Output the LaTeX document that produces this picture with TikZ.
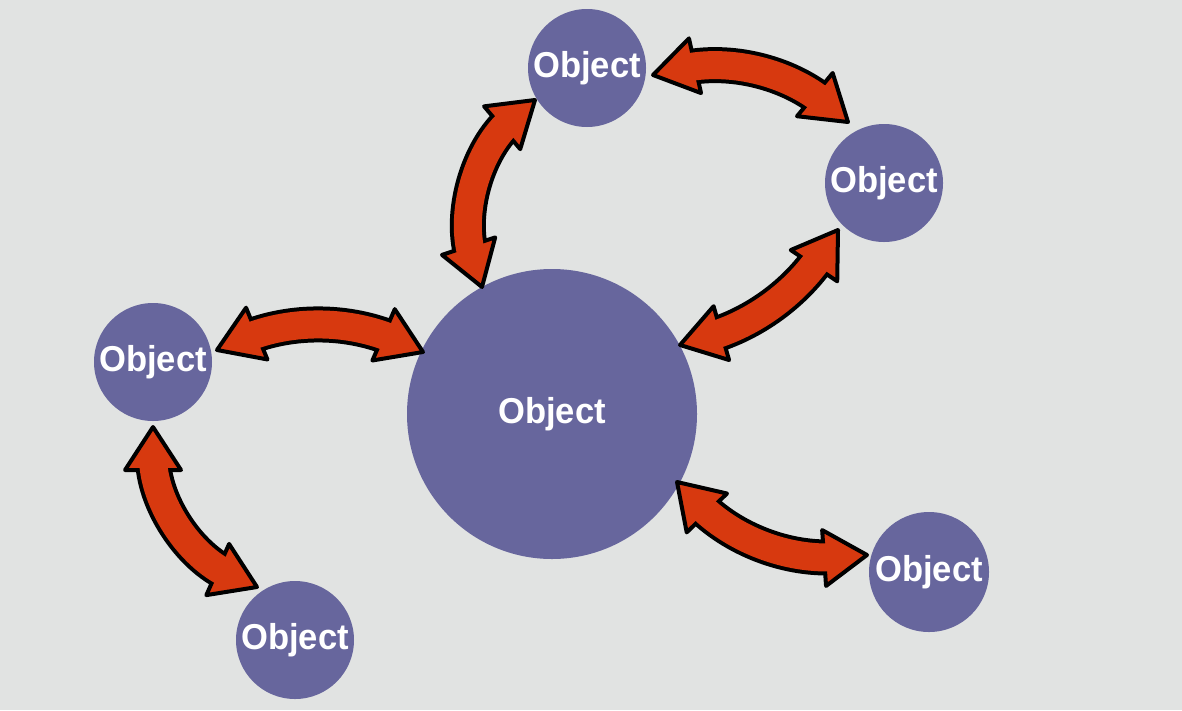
\documentclass[tikz,border=0pt]{standalone}
\usepackage{fontspec}
\usepackage{graphicx}
\usetikzlibrary{calc,decorations.markings}
\newfontfamily\objfont{Liberation Sans}
\definecolor{bgc}{HTML}{E1E3E2}
\definecolor{objc}{HTML}{67669D}
\definecolor{arrc}{HTML}{D7390F}
\tikzset{
  obj/.style={circle, fill=objc, inner sep=0pt, text=white,
    font=\objfont\bfseries\fontsize{36}{36}\selectfont},
  small/.style={obj, minimum size=118pt},
  big/.style={obj, minimum size=290pt},
  shaftout/.style={draw=black, line width=36pt, shorten <=30pt, shorten >=30pt},
  shaftin/.style={draw=arrc, line width=28pt, shorten <=30pt, shorten >=30pt},
  headst/.style={fill=arrc, draw=black, line width=4pt, line join=round},
  headmark/.style={decorate, decoration={markings,
     mark=at position 0 with {\filldraw[headst] (0,0) -- (43,28) -- (43,-28) -- cycle;}}}
}
% #1 start, #2 end, #3 bend from start to end, #4 same bend seen from end to start
\newcommand\dblarrow[4]{%
  \path[shaftout] (#1) to[#3] (#2);
  \path[headmark] (#1) to[#3] (#2);
  \path[headmark] (#2) to[#4] (#1);
  \path[shaftin] (#1) to[#3] (#2);
}
\newcommand\objtext{\raisebox{-3pt}{\scalebox{0.96}[1]{Object}}}
\begin{document}
\begin{tikzpicture}[x=1pt,y=1pt]
\useasboundingbox (0,0) rectangle (1182,-710);
\fill[bgc] (0,0) rectangle (1182,-710);
% nodes
\node[small] (oT) at (587,-68) {\objtext};
\node[small] (oR) at (884,-183) {\objtext};
\node[small] (oL) at (153,-362) {\objtext};
\node[big]   (oC) at (552,-414) {\objtext};
\node[small] (oB) at (295,-640) {\objtext};
\node[small, minimum size=120pt] (oD) at (929,-572) {\objtext};
% arrow end points
\coordinate (a1s) at ($(oT)+(66,-7)$);
\coordinate (a1e) at ($(oR)+(-36,61)$);
\coordinate (a2s) at ($(oT)+(-52,-32)$);
\coordinate (a2e) at ($(oC)+(-70,127)$);
\coordinate (a3s) at ($(oL)+(64,12)$);
\coordinate (a3e) at ($(oC)+(-129,62)$);
\coordinate (a4s) at ($(oC)+(125,-68)$);
\coordinate (a4e) at ($(oD)+(-62,17)$);
\coordinate (a5s) at ($(oR)+(-46,-47)$);
\coordinate (a5e) at ($(oC)+(128,69)$);
\coordinate (a6s) at ($(oL)+(0,-65)$);
\coordinate (a6e) at ($(oB)+(-38,53)$);
% arrows
\dblarrow{a1s}{a1e}{bend left=26}{bend right=26}
\dblarrow{a2s}{a2e}{bend right=34}{bend left=34}
\dblarrow{a3s}{a3e}{bend left=23}{bend right=23}
\dblarrow{a4s}{a4e}{bend right=25}{bend left=25}
\dblarrow{a5s}{a5e}{bend left=20}{bend right=20}
\dblarrow{a6s}{a6e}{bend right=33}{bend left=33}
\end{tikzpicture}
\end{document}
